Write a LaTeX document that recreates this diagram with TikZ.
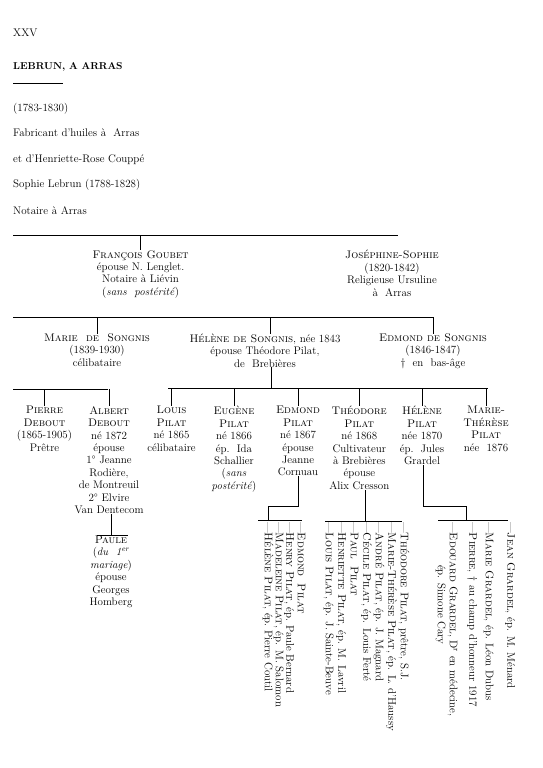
\documentclass[tikz,border=0pt]{standalone}
\usepackage{fontspec}
\usepackage{tikz}
\begin{document}
\begin{tikzpicture}[x=1pt, y=-1pt,
  every node/.style={inner sep=0pt, font=\fontsize{11}{12.4}\selectfont},
  person/.style={anchor=north, align=center, execute at begin node={\rule{0pt}{9pt}}},
  head/.style={anchor=base west},
  kid/.style={anchor=mid west, rotate=-90},
  bar/.style={line width=0.7pt}]
\useasboundingbox (0,0) rectangle (543,768);
% header
\node[head] (num) at (13,37) {XXV};
\node[head, font=\bfseries\fontsize{10}{12}\selectfont] (title) at (13,70) {LEBRUN, A ARRAS};
\coordinate (ruleL) at (13,83.5);
\coordinate (ruleR) at (63,83.5);
\draw[bar] (ruleL) -- (ruleR);
\node[head] (dates) at (13,111.5) {(1783-1830)};
\node[head] (trade) at (13,136.5) {Fabricant d'huiles à\ \ Arras};
\node[head] (wife) at (13,162.5) {et d'Henriette-Rose Couppé};
\node[head] (sophie) at (13,187.5) {Sophie Lebrun (1788-1828)};
\node[head] (notary) at (13,214.5) {Notaire à Arras};
% first bar
\coordinate (barAL) at (13,235);
\coordinate (barAR) at (398,235);
\draw[bar] (barAL) -- (barAR);
\node[person] (francois) at (140.6,250.2) {\textsc{François Goubet}\\épouse N. Lenglet.\\Notaire à Liévin\\(\textit{sans\ \ postérité})};
\node[person] (josephine) at (392,250.2) {\textsc{Joséphine-Sophie}\\(1820-1842)\\Religieuse Ursuline\\à\ \ Arras};
\draw[bar] (francois.north |- barAL) -- (francois.north);
% second bar
\coordinate (barBL) at (13,317.3);
\coordinate (barBR) at (433,317.3);
\draw[bar] (barBL) -- (barBR);
\node[person] (marie) at (97,333.5) {\textsc{Marie\ \ de\ \ Songnis}\\(1839-1930)\\célibataire};
\node[person] (helene) at (265,333.5) {\textsc{Hélène de Songnis}, née 1843\\épouse Théodore Pilat,\\de\ \ Brebières};
\node[person] (edmond) at (433,333.5) {\textsc{Edmond de Songnis}\\(1846-1847)\\†\ \ en\ \ bas-âge};
\draw[bar] (marie.north |- barBL) -- (marie.north);
\draw[bar] ([xshift=5pt]helene.north |- barBL) -- ([xshift=5pt]helene.north);
\draw[bar] (edmond.north |- barBL) -- (edmond.north);
% third generation bars
\coordinate (barCL) at (13.3,389.3);
\coordinate (barCR) at (108.3,389.3);
\coordinate (barDL) at (168.3,388.3);
\coordinate (barDR) at (488.3,388.3);
\draw[bar] (barCL) -- (barCR);
\draw[bar] (barDL) -- (barDR);
\draw[bar] ([xshift=6.7pt]helene.south) -- ([xshift=6.7pt]helene.south |- barDL);
\node[person] (pierre) at (44.5,406.2) {\textsc{Pierre}\\\textsc{Debout}\\(1865-1905)\\Prêtre};
\node[person] (albert) at (109,406.2) {\textsc{Albert}\\\textsc{Debout}\\né 1872\\épouse\\1° Jeanne\\Rodière,\\de Montreuil\\2° Elvire\\Van Dentecom};
\node[person] (louis) at (171.5,406.2) {\textsc{Louis}\\\textsc{Pilat}\\né 1865\\célibataire};
\node[person] (eugene) at (234,406.2) {\textsc{Eugène}\\\textsc{Pilat}\\né 1866\\ép.\ \ Ida\\Schallier\\(\textit{sans}\\\textit{postérité})};
\node[person] (edmondp) at (298,406.2) {\textsc{Edmond}\\\textsc{Pilat}\\né 1867\\épouse\\Jeanne\\Cornuau};
\node[person] (theodore) at (359.3,406.2) {\textsc{Théodore}\\\textsc{Pilat}\\né 1868\\Cultivateur\\à Brebières\\épouse\\Alix Cresson};
\node[person] (helenep) at (422,406.2) {\textsc{Hélène}\\\textsc{Pilat}\\née 1870\\ép.\ \ Jules\\Grardel};
\node[person] (mariet) at (486,406.2) {\textsc{Marie-}\\\textsc{Thérèse}\\\textsc{Pilat}\\née\ \ 1876};
\foreach \n in {pierre,albert}
  \draw[bar] (\n.north |- barCL) -- (\n.north);
\foreach \n in {louis,eugene,edmondp,theodore,helenep,mariet}
  \draw[bar] (\n.north |- barDL) -- (\n.north);
% Paule
\coordinate (barEL) at (96.7,535.7);
\coordinate (barER) at (128.3,535.7);
\draw[bar] ([xshift=2.7pt]albert.south) -- ([xshift=2.7pt]albert.south |- barEL);
\draw[bar] (barEL) -- (barER);
\node[person] (paule) at (111,535.8) {\textsc{Paule}\\(\textit{du\ \ 1\textsuperscript{er}}\\\textit{mariage})\\épouse\\Georges\\Homberg};
% children of Edmond Pilat
\coordinate (edA) at (298,506.7);
\coordinate (edB) at (268,506.7);
\coordinate (edL) at (258,520.7);
\coordinate (edR) at (302,520.7);
\draw[bar] (edmondp.south) -- (edA) -- (edB) -- (edB |- edL);
\draw[bar] (edL) -- (edR);
\node[kid] (ek1) at (300,522) {—\textsc{Edmond}\ \ \textsc{Pilat}};
\node[kid] (ek2) at (288.5,522) {—\textsc{Henry Pilat}, ép.\ Paule Bernard};
\node[kid] (ek3) at (278,522) {—\textsc{Madeleine Pilat}, ép. M. Salomon};
\node[kid] (ek4) at (267,522) {—\textsc{Hélène Pilat}, ép.\ Pierre Coutil};
% children of Theodore Pilat
\coordinate (thL) at (325,521.7);
\coordinate (thR) at (402,521.7);
\draw[bar] ([xshift=5.7pt]theodore.south) -- ([xshift=5.7pt]theodore.south |- thL);
\draw[bar] (thL) -- (thR);
\node[kid] (tk1) at (403,522) {—\textsc{Théodore Pilat}, prêtre, S.J.};
\node[kid] (tk2) at (390.5,522) {—\textsc{Marie-Thérèse Pilat}, ép. L. d'Haussy};
\node[kid] (tk3) at (378,522) {—\textsc{André Pilat}, ép. J. Magnard};
\node[kid] (tk4) at (365.5,522) {—\textsc{Cécile Pilat}, ép. Louis Ferté};
\node[kid] (tk5) at (353,522) {—\textsc{Paul}\ \ \textsc{Pilat}};
\node[kid] (tk6) at (340.5,522) {—\textsc{Henriette Pilat}, ép. M. Lavril};
\node[kid] (tk7) at (328,522) {—\textsc{Louis Pilat}, ép. J. Sainte-Beuve};
% children of Helene Pilat
\coordinate (grA) at (423.3,506.7);
\coordinate (grB) at (466.7,506.7);
\coordinate (grL) at (438.3,520.3);
\coordinate (grR) at (508.3,520.3);
\draw[bar] ([xshift=1.3pt]helenep.south) -- (grA) -- (grB) -- (grB |- grL);
\draw[bar] (grL) -- (grR);
\node[kid] (gk1) at (509.5,522) {—\textsc{Jean Grardel}, ép. M. Ménard};
\node[kid] (gk2) at (488,522) {—\textsc{Marie Grardel}, ép. Léon Dubus};
\node[kid] (gk3) at (471.5,522) {—\textsc{Pierre}, † au champ d'honneur 1917};
\node[kid] (gk4) at (452,522) {—\textsc{Edouard Grardel}, D\textsuperscript{r} en médecine,};
\node[kid] (gk5) at (440,565) {ép. Simone Cary};
\end{tikzpicture}
\end{document}
